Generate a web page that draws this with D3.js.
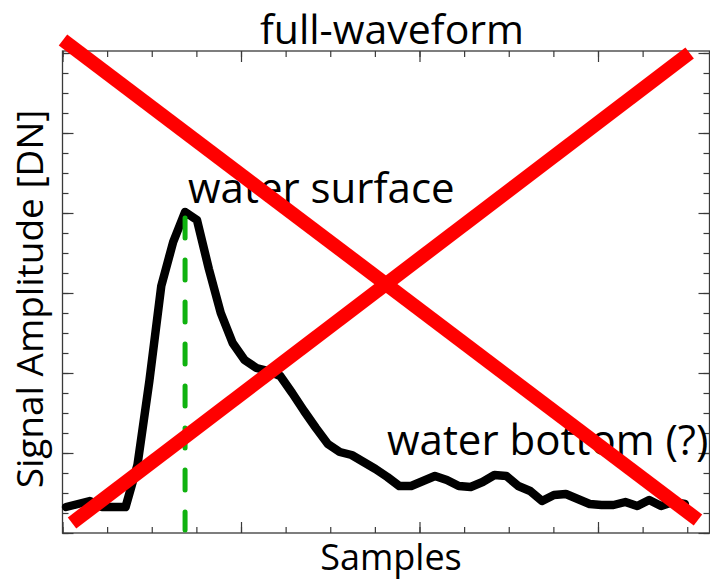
<!DOCTYPE html>
<html>
<head>
<meta charset="utf-8">
<script src="https://cdn.jsdelivr.net/npm/d3@7"></script>
<style>
  body { margin: 0; background: #fff; }
  text { font-family: "Open Sans", "Noto Sans", sans-serif; fill: #000; }
</style>
</head>
<body>
<div id="chart"></div>
<script>
// waveform amplitude, one value per sample [DN]
const sampleValues = [
  13, 14.5, 16, 13, 13, 13, 34, 76, 123.5, 145.5,
  160.5, 156.5, 132, 110, 95, 86.5, 82.5, 81, 78.5, 70,
  61, 52.5, 44.5, 40.5, 39, 35.5, 32, 28, 23.5, 23.5,
  26, 28.5, 26.5, 23.5, 23, 25.5, 29, 28.5, 23.5, 21,
  16, 19, 19.5, 17, 14.5, 14, 14, 15.5, 13.5, 16.5,
  13.5, 15.5, 14.5
];
const sampleOffset = 0.3;
const peakIndex = 10;

const xMajorTicks = [0, 15, 30, 45];
const xMinorTicks = d3.range(0, 54.4, 3.75);
const yMajorTicks = [0, 40, 80, 120, 160, 200, 240];
const yMinorTicks = d3.range(0, 241, 10);

const labelText = ["water surface", "water bottom (?)"];
const labelX = [10.55, 27.27];
const labelY = [165, 39];

// big red cross drawn over the figure (data units)
const crossLines = [
  [[0.04, 246.5], [53.4, 6.5]],
  [[0.8, 5], [52.7, 240]],
];

const width = 710;
const height = 581;
const margin = { top: 51, right: 0.5, bottom: 48, left: 62.5 };

const svg = d3
  .select("#chart")
  .append("svg")
  .attr("width", width)
  .attr("height", height);

const x = d3
  .scaleLinear()
  .domain([0, 54.37])
  .range([margin.left, width - margin.right]);

const y = d3
  .scaleLinear()
  .domain([0, 241])
  .range([height - margin.bottom, margin.top]);

const axisColor = "#3a3a3a";

function drawTicks(axis, transform, values, size) {
  const g = svg
    .append("g")
    .attr("transform", transform)
    .call(axis.tickValues(values).tickSize(size).tickSizeOuter(0).tickFormat(""));
  g.select(".domain").remove();
  g.selectAll("line").attr("stroke", axisColor).attr("stroke-width", 1.2);
}

const bottomY = y(0);
const topY = y.range()[1];
const leftX = x(0);
const rightX = x.range()[1];

// inward ticks on all four sides
drawTicks(d3.axisBottom(x), `translate(0,${bottomY})`, xMinorTicks, -6);
drawTicks(d3.axisBottom(x), `translate(0,${bottomY})`, xMajorTicks, -11);
drawTicks(d3.axisTop(x), `translate(0,${topY})`, xMinorTicks, -6);
drawTicks(d3.axisTop(x), `translate(0,${topY})`, xMajorTicks, -11);
drawTicks(d3.axisLeft(y), `translate(${leftX},0)`, yMinorTicks, -6);
drawTicks(d3.axisLeft(y), `translate(${leftX},0)`, yMajorTicks, -11);
drawTicks(d3.axisRight(y), `translate(${rightX},0)`, yMinorTicks, -6);
drawTicks(d3.axisRight(y), `translate(${rightX},0)`, yMajorTicks, -11);

svg
  .append("rect")
  .attr("x", leftX)
  .attr("y", topY)
  .attr("width", rightX - leftX)
  .attr("height", bottomY - topY)
  .attr("fill", "none")
  .attr("stroke", axisColor)
  .attr("stroke-width", 1.3);

// waveform
const line = d3
  .line()
  .x((d, i) => x(i + sampleOffset))
  .y((d) => y(d));

svg
  .append("path")
  .datum(sampleValues)
  .attr("d", line)
  .attr("fill", "none")
  .attr("stroke", "#000")
  .attr("stroke-width", 8.5)
  .attr("stroke-linejoin", "round")
  .attr("stroke-linecap", "round");

// peak marker
svg
  .append("line")
  .attr("x1", x(peakIndex + sampleOffset))
  .attr("x2", x(peakIndex + sampleOffset))
  .attr("y1", y(sampleValues[peakIndex]) + 6)
  .attr("y2", y(0) - 3)
  .attr("stroke", "#0fb20f")
  .attr("stroke-width", 5)
  .attr("stroke-linecap", "round")
  .attr("stroke-dasharray", "20 22");

// annotations
svg
  .selectAll(".label")
  .data(labelText)
  .enter()
  .append("text")
  .attr("class", "label")
  .attr("x", (d, i) => x(labelX[i]))
  .attr("y", (d, i) => y(labelY[i]))
  .style("font-size", "42px")
  .text((d) => d);

svg
  .append("text")
  .attr("x", 392)
  .attr("y", 44)
  .attr("text-anchor", "middle")
  .style("font-size", "41px")
  .text("full-waveform");

svg
  .append("text")
  .attr("x", 391)
  .attr("y", 570)
  .attr("text-anchor", "middle")
  .style("font-size", "36px")
  .text("Samples");

svg
  .append("text")
  .attr("transform", "translate(43,299) rotate(-90)")
  .attr("text-anchor", "middle")
  .style("font-size", "37px")
  .text("Signal Amplitude [DN]");

// red cross
svg
  .selectAll(".cross")
  .data(crossLines)
  .enter()
  .append("line")
  .attr("class", "cross")
  .attr("x1", (d) => x(d[0][0]))
  .attr("y1", (d) => y(d[0][1]))
  .attr("x2", (d) => x(d[1][0]))
  .attr("y2", (d) => y(d[1][1]))
  .attr("stroke", "#ff0000")
  .attr("stroke-width", 14);
</script>
</body>
</html>
